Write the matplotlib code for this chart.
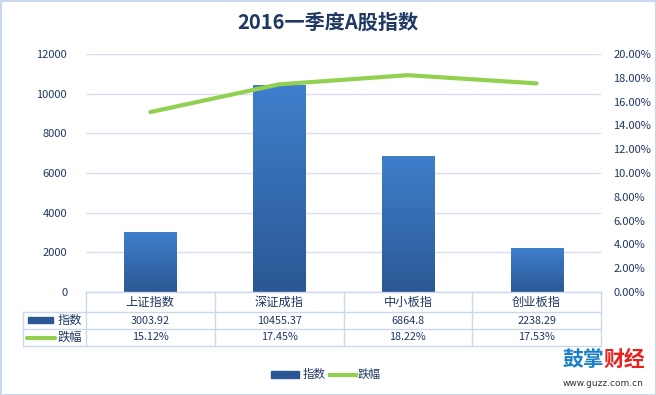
import numpy as np
import matplotlib
matplotlib.use('Agg')
import matplotlib.pyplot as plt
from matplotlib.colors import LinearSegmentedColormap
from matplotlib.patches import Rectangle
from matplotlib.ticker import FuncFormatter

plt.rcParams['font.family'] = ['Noto Sans CJK SC', 'DejaVu Sans']

# data
categories = ['上证指数', '深证成指', '中小板指', '创业板指']
index_values = [3003.92, 10455.37, 6864.8, 2238.29]
index_labels = ['3003.92', '10455.37', '6864.8', '2238.29']
change_pct = [15.12, 17.45, 18.22, 17.53]
change_labels = ['15.12%', '17.45%', '18.22%', '17.53%']
series_names = ['指数', '跌幅']

W, H = 656, 395
text_col = '#1f3864'
grid_col = '#d6e0ee'
bar_top = '#3f7fcd'
bar_bot = '#2b5894'
line_col = '#92d050'

fig = plt.figure(figsize=(W / 100, H / 100), dpi=100)

# plot area in pixels
px_l, px_r, px_t, px_b = 86, 601, 54, 292
ax = fig.add_axes([px_l / W, 1 - px_b / H, (px_r - px_l) / W, (px_b - px_t) / H])
ax.set_xlim(-0.5, len(categories) - 0.5)
ax.set_ylim(0, 12000)
ax.set_yticks(np.arange(0, 12001, 2000))
ax.set_xticks([])
for s in ax.spines.values():
    s.set_visible(False)
ax.tick_params(axis='y', length=0, labelsize=8, labelcolor=text_col, pad=8)
for lbl in ax.get_yticklabels():
    lbl.set_x(-0.015)
ax.yaxis.grid(True, color=grid_col, lw=1)
ax.set_axisbelow(True)

# gradient bars
cmap = LinearSegmentedColormap.from_list('bar', [bar_bot, bar_top])
grad = np.linspace(0, 1, 256).reshape(-1, 1)
x = np.arange(len(categories))
bw = 0.405
bars = ax.bar(x, index_values, width=bw, color=bar_top, zorder=2)
for b in bars:
    x0, y0 = b.get_x(), b.get_y()
    im = ax.imshow(grad, extent=[x0, x0 + b.get_width(), y0, y0 + b.get_height()],
                   origin='lower', aspect='auto', cmap=cmap, zorder=3)
    im.set_clip_path(b)
ax.set_xlim(-0.5, len(categories) - 0.5)
ax.set_ylim(0, 12000)

ax2 = ax.twinx()
ax2.plot(x, change_pct, color=line_col, lw=3, solid_capstyle='round', zorder=4)
ax2.set_ylim(0, 20)
ax2.set_yticks(np.arange(0, 20.1, 2))
ax2.yaxis.set_major_formatter(FuncFormatter(lambda v, p: '%.2f%%' % v))
ax2.tick_params(axis='y', length=0, labelsize=8, labelcolor=text_col, pad=9)
for s in ax2.spines.values():
    s.set_visible(False)

# overlay in pixel coordinates for table, title, legend, logo
ov = fig.add_axes([0, 0, 1, 1], zorder=5)
ov.set_xlim(0, W)
ov.set_ylim(H, 0)
ov.axis('off')
ov.patch.set_alpha(0)

ov.add_patch(Rectangle((0.5, 0.5), W - 1, H - 1, fill=False, ec='#c9d8ec', lw=1.5))
ov.text(W / 2, 22, '2016一季度A股指数', ha='center', va='center',
        fontsize=14.5, fontweight='bold', color=text_col)

# data table
col_w = (px_r - px_l) / len(categories)
rows = [292, 312, 329, 346]
leg_l = 23
lc = '#c9d8ec'
ov.plot([px_l, px_r], [rows[0], rows[0]], color=lc, lw=1)
for r in rows[1:]:
    ov.plot([leg_l, px_r], [r, r], color=lc, lw=1)
ov.plot([leg_l, leg_l], [rows[1], rows[3]], color=lc, lw=1)
for i in range(len(categories) + 1):
    xx = px_l + i * col_w
    ov.plot([xx, xx], [rows[0], rows[3]], color=lc, lw=1)
for i, c in enumerate(categories):
    cx = px_l + (i + 0.5) * col_w
    ov.text(cx, (rows[0] + rows[1]) / 2, c, ha='center', va='center', fontsize=8.8, color=text_col)
    ov.text(cx, (rows[1] + rows[2]) / 2, index_labels[i], ha='center', va='center', fontsize=7.8, color=text_col)
    ov.text(cx, (rows[2] + rows[3]) / 2, change_labels[i], ha='center', va='center', fontsize=7.8, color=text_col)
ov.add_patch(Rectangle((28, 317), 25, 6, color=bar_bot))
ov.text(58, (rows[1] + rows[2]) / 2, series_names[0], va='center', fontsize=8.8, color=text_col)
ov.plot([27, 55], [337.5, 337.5], color=line_col, lw=3, solid_capstyle='round')
ov.text(58, (rows[2] + rows[3]) / 2, series_names[1], va='center', fontsize=8.8, color=text_col)

# bottom legend
ov.add_patch(Rectangle((271, 371), 28, 7, color=bar_bot))
ov.text(303, 374.5, series_names[0], va='center', fontsize=8.3, color=text_col)
ov.plot([330, 356], [374.5, 374.5], color=line_col, lw=3)
ov.text(358, 374.5, series_names[1], va='center', fontsize=8.3, color=text_col)

# logo
ov.text(604, 359, '鼓掌', ha='right', va='center', fontsize=15, fontweight='bold', color='#1a7fc4')
ov.text(604, 359, '财经', ha='left', va='center', fontsize=15, fontweight='bold', color='#e8231e')
ov.text(603, 383, 'www.guzz.com.cn', ha='center', va='center', fontsize=6.5, color='#333333',
        family='DejaVu Sans')

fig.savefig('out.png', dpi=100)
